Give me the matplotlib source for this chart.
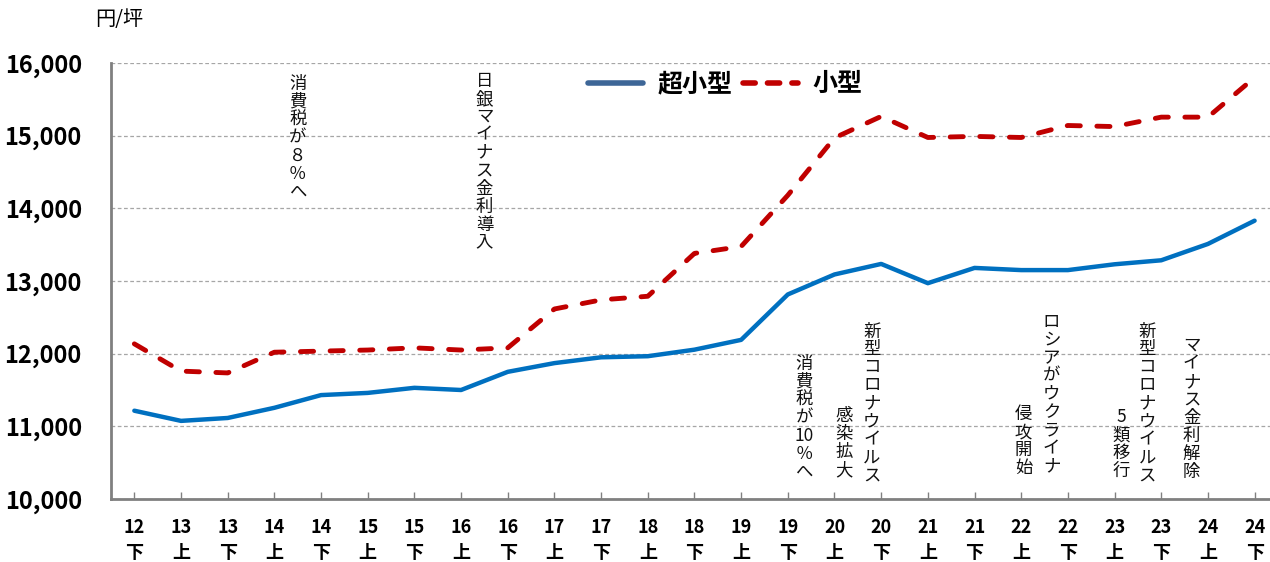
import matplotlib
matplotlib.use('Agg')
from matplotlib import pyplot as plt
from matplotlib.lines import Line2D

plt.rcParams['font.family'] = ['Noto Sans CJK JP', 'DejaVu Sans']

# 半期
years = ['12', '13', '13', '14', '14', '15', '15', '16', '16', '17', '17', '18', '18',
         '19', '19', '20', '20', '21', '21', '22', '22', '23', '23', '24', '24']
halves = ['下', '上', '下', '上', '下', '上', '下', '上', '下', '上', '下', '上', '下',
          '上', '下', '上', '下', '上', '下', '上', '下', '上', '下', '上', '下']

# 円/坪
super_small = [11215, 11075, 11115, 11255, 11430, 11460, 11530, 11500, 11750, 11870,
               11950, 11965, 12055, 12190, 12815, 13090, 13235, 12970, 13180, 13150,
               13150, 13230, 13285, 13510, 13830]
small = [12135, 11760, 11735, 12020, 12035, 12050, 12080, 12050, 12080, 12615,
         12740, 12790, 13380, 13475, 14180, 14970, 15265, 14975, 14990, 14975,
         15140, 15125, 15255, 15255, 15800]

# (x位置, 上端の値, 文字列)  縦書き
events = [
    (3.5, 15840, ['消', '費', '税', 'が', '８', '％', 'へ']),
    (7.5, 15880, ['日', '銀', 'マ', 'イ', 'ナ', 'ス', '金', '利', '導', '入']),
    (14.35, 11985, ['消', '費', '税', 'が', '10', '％', 'へ']),
    (15.8, 12430, ['新', '型', 'コ', 'ロ', 'ナ', 'ウ', 'イ', 'ル', 'ス']),
    (15.2, 11260, ['感', '染', '拡', '大']),
    (19.65, 12560, ['ロ', 'シ', 'ア', 'が', 'ウ', 'ク', 'ラ', 'イ', 'ナ']),
    (19.05, 11290, ['侵', '攻', '開', '始']),
    (21.7, 12430, ['新', '型', 'コ', 'ロ', 'ナ', 'ウ', 'イ', 'ル', 'ス']),
    (21.15, 11250, ['5', '類', '移', '行']),
    (22.65, 12230, ['マ', 'イ', 'ナ', 'ス', '金', '利', '解', '除']),
]

fig = plt.figure(figsize=(12.7, 5.62), dpi=100)
ax = fig.add_axes([111 / 1270, 1 - 499 / 562, 1 - 111 / 1270, (499 - 63) / 562])

x = list(range(len(years)))
ax.plot(x, super_small, color='#0070C0', lw=3.2, solid_capstyle='round', zorder=3)
ax.plot(x, small, color='#C00000', lw=3.5, dashes=(2.7, 3.4),
        dash_capstyle='round', zorder=3)

ax.set_xlim(-0.5, 24.33)
ax.set_ylim(10000, 16000)
ax.set_yticks(range(10000, 16001, 1000))
ax.set_yticklabels(['{:,}'.format(v) for v in range(10000, 16001, 1000)],
                   fontsize=17, fontweight='bold')
ax.set_xticks(x)
ax.set_xticklabels([y + '\n' + h for y, h in zip(years, halves)],
                   fontsize=13, fontweight='bold', linespacing=1.35)
ax.tick_params(axis='y', length=0, pad=21)
ax.tick_params(axis='x', direction='in', length=5, width=1, color='#808080', pad=14)

ax.grid(axis='y', color='#a6a6a6', linestyle=(0, (3, 2)), lw=0.9)
ax.set_axisbelow(True)
for s in ['top', 'right']:
    ax.spines[s].set_visible(False)
for s in ['left', 'bottom']:
    ax.spines[s].set_color('#808080')
    ax.spines[s].set_linewidth(2)

for xp, ytop, chars in events:
    ax.text(xp, ytop, '\n'.join(chars), ha='center', va='top', fontsize=12.5,
            linespacing=1.0, color='#111111', zorder=4)

fig.text(95 / 1270, 1 - 20 / 562, '円/坪', fontsize=14.5, va='center', ha='left')

handles = [Line2D([], [], color='#3D6697', lw=4, solid_capstyle='round'),
           Line2D([], [], color='#C00000', lw=4, dashes=(2.2, 2.2), dash_capstyle='round')]
leg = ax.legend(handles, ['超小型', '小型'], loc='upper center', ncol=2,
                bbox_to_anchor=(0.5 + 0.03, 1.03), frameon=False,
                prop={'size': 18, 'weight': 'bold'}, handlelength=2.2,
                columnspacing=0.4, handletextpad=0.6)

plt.savefig('out.png', dpi=100)
plt.close()
